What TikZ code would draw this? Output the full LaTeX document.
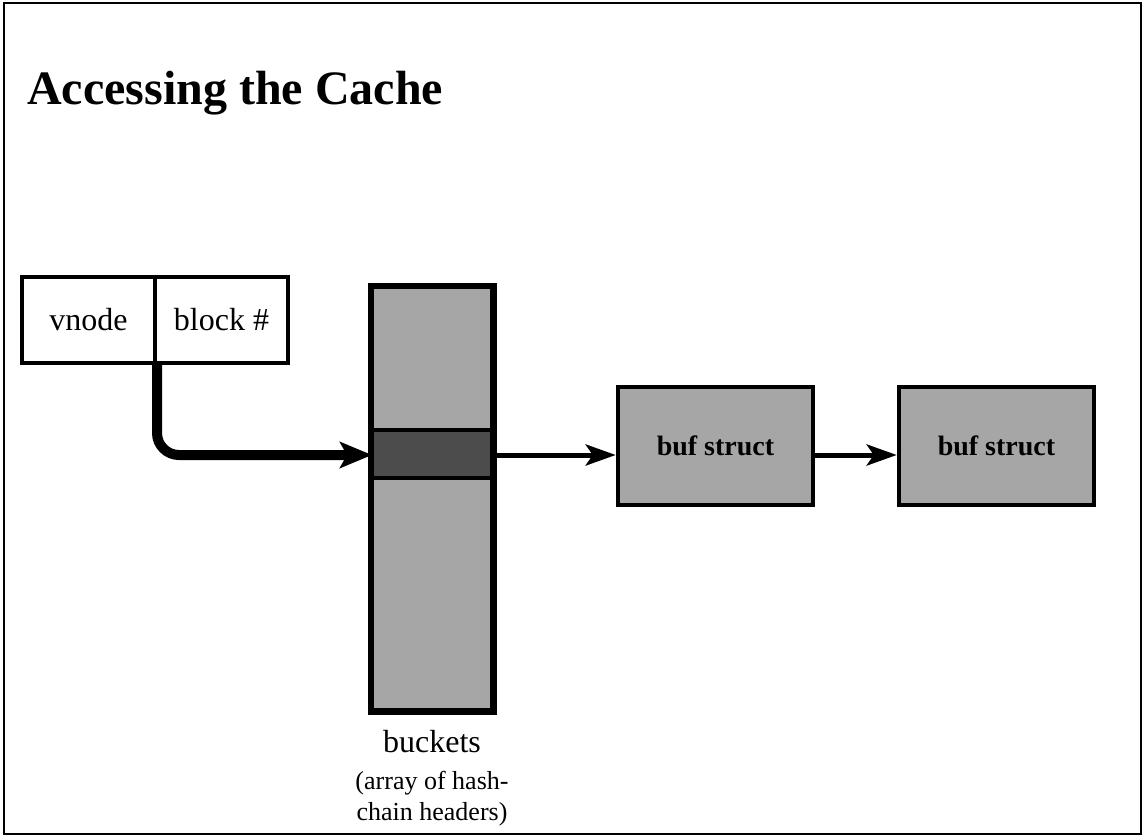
\documentclass[tikz,border=0pt]{standalone}
\usepackage{fontspec}
\setmainfont{Liberation Serif}
\usetikzlibrary{arrows.meta}
\begin{document}
\begin{tikzpicture}[x=1pt,y=-1pt,
  cell/.style={draw=black,line width=4pt,fill=white,minimum height=86pt,inner sep=0pt,font=\fontsize{32}{36}\selectfont},
  bufbox/.style={draw=black,line width=4.5pt,fill=black!35,minimum width=195pt,minimum height=118pt,inner sep=0pt,font=\fontsize{28}{32}\selectfont\bfseries},
  thinarrow/.style={line width=5pt,-{Stealth[length=30pt,width=21pt,inset=7pt]}},
  thickarrow/.style={line width=10pt,rounded corners=22pt,-{Stealth[length=32pt,width=26pt,inset=7pt]}},
  lbl/.style={inner sep=0pt,align=center}]
\useasboundingbox (0,0) rectangle (1144,838);
\fill[white] (0,0) rectangle (1144,838);
\draw[line width=2.5pt] (4,3) rectangle (1141,834);
\node[lbl,anchor=base west,font=\fontsize{48}{52}\selectfont\bfseries] (title) at (27,104) {Accessing the Cache};
% vnode / block box
\node[cell,minimum width=133pt] (vnode) at (88.5,320) {vnode};
\node[cell,minimum width=133pt] (block) at (221.5,320) {block \#};
% buckets
\node[draw=black,line width=4.5pt,fill=black!35,minimum width=120pt,minimum height=423pt,inner sep=0pt] (buckets) at (432,498.5) {};
\fill[black!70] (374,430) rectangle (490,478);
\draw[line width=4pt] (372,430) -- (492,430) (372,478) -- (492,478);
\draw[line width=4.5pt] (buckets.north west) rectangle (buckets.south east);
\coordinate (hit) at (372,455);
\coordinate (hitout) at (492,455);
% buf structs
\node[bufbox] (buf1) at (715.5,446) {buf struct};
\node[bufbox] (buf2) at (996.5,446) {buf struct};
% arrows
\draw[thickarrow] (157,363) -- (157,455) -- (hit);
\draw[thinarrow] (hitout) -- (buf1.west |- hitout);
\draw[thinarrow] (buf1.east |- hitout) -- (buf2.west |- hitout);
% labels
\node[lbl,anchor=base,font=\fontsize{32}{36}\selectfont] (bk) at (432,752) {buckets};
\node[lbl,anchor=base,font=\fontsize{26}{30}\selectfont] (bk2) at (432,789) {(array of hash-};
\node[lbl,anchor=base,font=\fontsize{26}{30}\selectfont] (bk3) at (432,820) {chain headers)};
\end{tikzpicture}
\end{document}
